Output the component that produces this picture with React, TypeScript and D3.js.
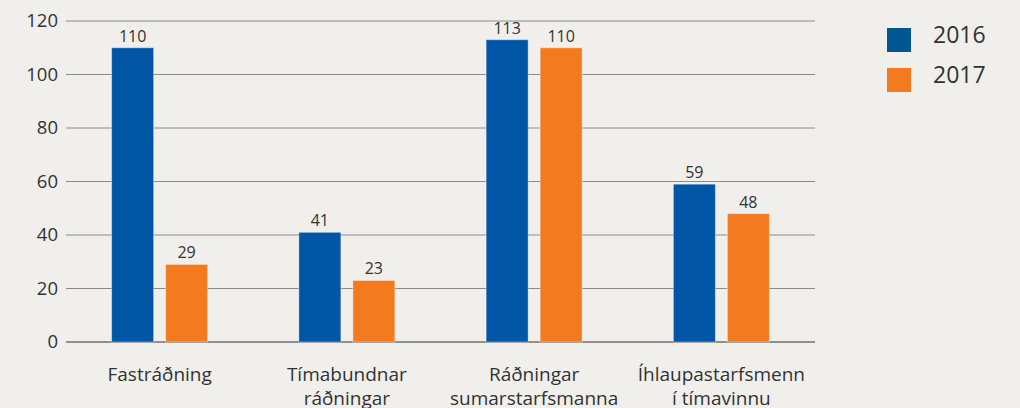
import React from 'react';
import * as d3 from 'd3';

const categories = [
  ['Fastráðning'],
  ['Tímabundnar', 'ráðningar'],
  ['Ráðningar', 'sumarstarfsmanna'],
  ['Íhlaupastarfsmenn', 'í tímavinnu'],
];
const years = ['2016', '2017'];
const values2016 = [110, 41, 113, 59];
const values2017 = [29, 23, 110, 48];
const yTicks = [0, 20, 40, 60, 80, 100, 120];

const colors = ['#0055a4', '#f47a20'];
const legendColors = ['#00578f', '#f47a20'];
const font = '"Open Sans", "Noto Sans", sans-serif';

export default function App() {
  const width = 1020;
  const height = 408;
  const margin = { top: 21, right: 205, bottom: 66, left: 66 };

  const x0 = d3.scaleBand()
    .domain(categories.map((c, i) => String(i)))
    .range([margin.left, width - margin.right])
    .padding(0);
  const x1 = d3.scaleBand()
    .domain(years)
    .range([0, 96])
    .paddingInner(0.222);
  const y = d3.scaleLinear().domain([0, 120]).range([height - margin.bottom, margin.top]);

  const series = [values2016, values2017];

  return (
    <svg width={width} height={height} style={{ position: 'absolute', left: 0, top: 0, background: '#f0efeb' }}>
      <rect x={0} y={0} width={width} height={height} fill="#f0efeb" />
      {/* grid */}
      {yTicks.map((t) => (
        <g key={t}>
          <line
            x1={margin.left}
            x2={width - margin.right}
            y1={y(t)}
            y2={y(t)}
            stroke={t === 0 ? '#8f8f8f' : '#8a8a8a'}
            strokeWidth={t === 0 ? 2 : 1}
          />
          <text x={58} y={y(t)} dy="0.35em" textAnchor="end" fontFamily={font} fontSize={18.5} fill="#333">
            {t}
          </text>
        </g>
      ))}
      {/* bars */}
      {categories.map((c, i) => {
        const cx = (x0(String(i)) as number) + x0.bandwidth() / 2 - 48;
        return (
          <g key={i} transform={`translate(${cx},0)`}>
            {years.map((yr, s) => {
              const v = series[s][i];
              const bx = x1(yr) as number;
              return (
                <g key={yr}>
                  <rect
                    x={bx}
                    y={y(v)}
                    width={x1.bandwidth()}
                    height={y(0) - y(v)}
                    fill={colors[s]}
                    stroke="#ffffff"
                    strokeOpacity={0.4}
                    strokeWidth={1}
                  />
                  <text
                    x={bx + x1.bandwidth() / 2}
                    y={y(v) - 6}
                    textAnchor="middle"
                    fontFamily={font}
                    fontSize={16}
                    fill="#333"
                  >
                    {v}
                  </text>
                </g>
              );
            })}
            {c.map((line, k) => (
              <text
                key={k}
                x={48}
                y={y(0) + 39 + k * 24}
                textAnchor="middle"
                fontFamily={font}
                fontSize={19}
                fill="#333"
              >
                {line}
              </text>
            ))}
          </g>
        );
      })}
      {/* legend */}
      {years.map((yr, s) => (
        <g key={yr} transform={`translate(887,${28 + s * 40})`}>
          <rect width={24} height={24} fill={legendColors[s]} />
          <text x={46} y={7} dy="0.35em" fontFamily={font} fontSize={23} fill="#333">
            {yr}
          </text>
        </g>
      ))}
    </svg>
  );
}
